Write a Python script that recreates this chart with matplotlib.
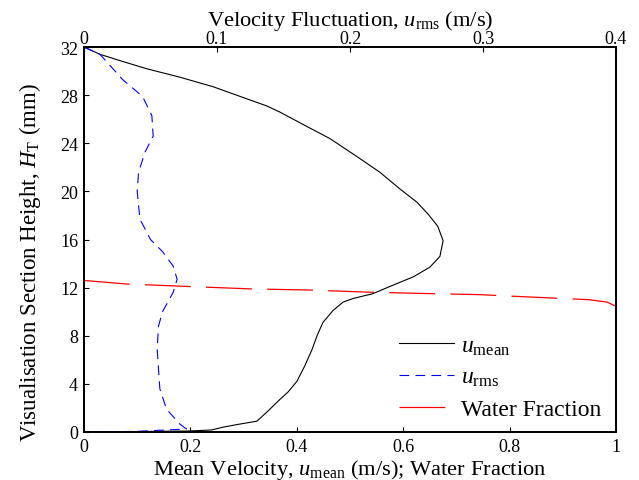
# perfil de velocidad y fraccion de agua
import matplotlib
matplotlib.use('Agg')
import matplotlib.pyplot as plt

plt.rcParams['font.family'] = 'Liberation Serif'
plt.rcParams['mathtext.fontset'] = 'custom'
plt.rcParams['mathtext.rm'] = 'Liberation Serif'
plt.rcParams['mathtext.it'] = 'Liberation Serif:italic'
plt.rcParams['lines.scale_dashes'] = False

# velocidad media (m/s) vs altura (mm)
u_mean = [0, 0.03, 0.073, 0.118, 0.18, 0.243, 0.306, 0.344, 0.368, 0.419, 0.462,
          0.513, 0.556, 0.594, 0.626, 0.647, 0.665, 0.675, 0.669, 0.650, 0.619,
          0.575, 0.543, 0.506, 0.487, 0.468, 0.449, 0.438, 0.429, 0.415, 0.400,
          0.383, 0.368, 0.346, 0.325, 0.293, 0.261, 0.24, 0.196, 0.0]
h_mean = [32, 31.4, 30.8, 30.2, 29.5, 28.7, 27.7, 27.1, 26.6, 25.4, 24.4,
          22.9, 21.6, 20.2, 19.1, 18.1, 17.1, 15.9, 14.6, 13.7, 12.9,
          12.1, 11.5, 11.1, 10.8, 10.1, 9.1, 8.0, 6.9, 5.5, 4.2,
          3.3, 2.7, 1.75, 0.9, 0.66, 0.4, 0.17, 0.08, 0.0]

# fluctuacion de velocidad (m/s)
u_rms = [0, 0.012, 0.029, 0.044, 0.051, 0.052, 0.046, 0.041, 0.040, 0.042, 0.050,
         0.059, 0.067, 0.070, 0.067, 0.059, 0.056, 0.055, 0.057, 0.062, 0.072,
         0.077, 0.04, 0.0]
h_rms = [32, 31.4, 29.3, 27.9, 26.3, 24.6, 23.3, 21.6, 20.0, 17.7, 16.0,
         15.0, 13.8, 12.7, 11.6, 10.0, 8.8, 6.9, 3.6, 1.9, 0.66,
         0.25, 0.05, 0]

# fraccion de agua
frac = [0, 0.081, 0.195, 0.312, 0.425, 0.538, 0.656, 0.744, 0.8, 0.889, 0.95,
        0.983, 1.0]
h_frac = [12.6, 12.3, 12.1, 11.9, 11.8, 11.62, 11.5, 11.42, 11.3, 11.12, 11.0,
          10.8, 10.45]

fig = plt.figure(figsize=(6.39, 4.81), dpi=100)
ax = fig.add_axes([0.1315, 0.0998, 0.8325, 0.8002])
l1, = ax.plot(u_mean, h_mean, color='black', linewidth=0.8)
l3, = ax.plot(frac, h_frac, color='red', linewidth=0.9, dashes=(33, 11))
ax.set_xlim(0, 1)
ax.set_ylim(0, 32)
ax.set_xticks([0, 0.2, 0.4, 0.6, 0.8, 1])
ax.set_xticklabels(['0', '0.2', '0.4', '0.6', '0.8', '1'])
ax.set_yticks(range(0, 33, 4))
ax.tick_params(direction='in', length=3.5, labelsize=13, pad=4.3)
ax.set_xlabel(r'Mean Velocity, $u_{\mathrm{mean}}$ (m/s); Water Fraction', fontsize=16.2)
ax.set_ylabel(r'Visualisation Section Height, $H_{\mathrm{T}}$ (mm)', fontsize=16.5)
ax.xaxis.set_label_coords(0.5, -0.065)
ax.yaxis.set_label_coords(-0.077, 0.444)

ax2 = ax.twiny()
l2, = ax2.plot(u_rms, h_rms, color='blue', linewidth=0.8, dashes=(7, 4.5))
ax2.set_xlim(0, 0.4)
ax2.set_xticks([0, 0.1, 0.2, 0.3, 0.4])
ax2.set_xticklabels(['0', '0.1', '0.2', '0.3', '0.4'])
ax2.tick_params(direction='in', length=3.5, labelsize=13, pad=0)
ax2.set_xlabel(r'Velocity Fluctuation, $u_{\mathrm{rms}}$ (m/s)', fontsize=16.2)
ax2.xaxis.set_label_coords(0.5, 1.058)

for a in (ax, ax2):
    for s in a.spines.values():
        s.set_linewidth(1.3)

ax2.legend([l1, l2, l3], [r'$u_{\mathrm{mean}}$', r'$u_{\mathrm{rms}}$', 'Water Fraction'],
           loc='upper left', bbox_to_anchor=(387 / 639, 1 - 324 / 481),
           bbox_transform=fig.transFigure, frameon=False, fontsize=17,
           handlelength=2.33, handletextpad=0.3, labelspacing=0.42, borderpad=0)

fig.savefig('out.png', dpi=100)
